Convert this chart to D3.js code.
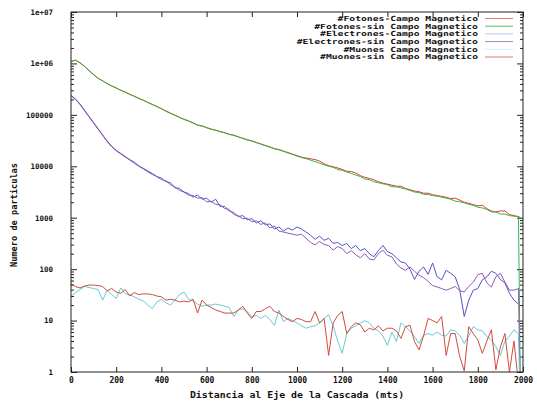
<!DOCTYPE html>
<html><head><meta charset="utf-8">
<script src="https://cdn.jsdelivr.net/npm/d3@7"></script>
<style>
body{margin:0;background:#fff}
svg{display:block;background:#fff}
text{font-family:"DejaVu Sans Mono",monospace;font-weight:bold;fill:#111}
</style>
</head><body>
<svg id="c" width="537" height="411"></svg>
<script>
const distance = [0,20,40,60,80,100,120,140,160,180,200,220,240,260,280,300,320,340,360,380,
400,420,440,460,480,500,520,540,560,580,600,620,640,660,680,700,720,740,760,780,
800,820,840,860,880,900,920,940,960,980,1000,1020,1040,1060,1080,1100,1120,1140,1160,1180,
1200,1220,1240,1260,1280,1300,1320,1340,1360,1380,1400,1420,1440,1460,1480,1500,1520,1540,1560,1580,
1600,1620,1640,1660,1680,1700,1720,1740,1760,1780,1800,1820,1840,1860,1880,1900,1920,1940,1960,1980,1990];

const fotonesCampo = [1100000,1160000,1030000,880000,720000,610000,515000,460000,405000,365000,
335000,300000,278000,250000,231000,208000,193000,175000,160000,146000,
131000,119000,108000,98500,90000,82000,76500,70000,63500,61000,
56500,53000,50500,47500,45000,42000,40300,37500,35200,32800,
31200,29000,27300,25400,23800,22100,21200,19700,18500,17200,
16200,15000,14500,14000,13500,12600,11200,10300,9800,9300,
8700,8000,7900,7400,6600,6100,5800,5500,5000,4700,
4500,4300,4100,4100,3700,3500,3300,3200,3000,3000,
2800,2700,2600,2500,2350,2400,2200,2000,1900,1800,
1700,1750,1500,1350,1300,1350,1350,1150,1100,1050,1000];

const fotonesSinCampo = [1096000,1148000,1023000,871000,724000,603000,513000,457000,407000,363000,
331000,302000,275000,251000,229000,209000,191000,174000,158000,145000,
132000,117500,107200,97700,89100,81300,75900,69200,63100,60300,
56200,52500,50100,46800,44700,41700,39800,37200,34700,32400,
30900,28800,26900,25100,23400,21900,20900,19500,18200,17000,
15800,14800,14100,13200,12300,11500,10700,10000,9550,8700,
8320,7760,7240,6760,6310,5700,5500,5010,4790,4570,
4370,4000,3980,3800,3630,3390,3160,3090,2850,2820,
2690,2630,2510,2400,2290,2100,2040,1950,1820,1740,
1600,1550,1450,1300,1290,1180,1170,1100,1070,1050,0.1];

const electronesCampo = [240000,204000,162000,123000,93300,70800,53700,40700,30900,24500,
20400,17800,15500,13500,12000,10200,9120,8130,7240,6310,
5890,5010,4790,3800,3720,3160,2950,2510,2750,2290,
2400,2000,2290,1660,1660,1350,1260,1050,1100,912,
955,794,871,724,759,603,661,550,631,575,
661,603,525,457,380,437,363,398,316,331,
288,316,251,288,229,251,200,174,229,288,
219,200,166,138,132,100,63,91,110,79,
132,71,62,95,83,71,40,12,25,39,
42,62,71,91,83,63,54,34,25,21,null];

const electronesSinCampo = [234000,200000,158000,120000,91200,69200,52500,39800,30200,24000,
20000,17400,15100,13200,11500,10000,8910,7760,6920,6310,
5500,5250,4370,3980,3390,3160,2750,2690,2400,2450,
2040,2090,1820,1780,1510,1450,1150,1100,955,977,
832,871,741,794,631,692,550,525,501,479,
457,479,398,331,295,347,302,288,234,275,
251,200,229,191,166,200,158,151,200,234,
186,174,126,105,95,110,91,76,68,58,
48,45,42,39,42,46,38,36,46,56,
78,83,54,45,71,83,56,39,39,42,0.1];

const muonesCampo = [30,35,40,46,44,42,40,25,39,32,
27,43,33,32,29,26,24,20,17,23,
26,22,20,25,32,36,26,24,21,19,
20,20,21,20,19,18,12,16,17,15,
12,12.6,11,12.6,10.5,8.1,16,9.5,11,10,
9,7.9,7.1,7.6,7.9,9,11,13,7.9,4,
2.3,5.6,7.1,7.9,9,10,9,7.1,6.3,5,
3.3,6,3.9,9,7.6,6.3,4.9,3.6,5.2,5.6,
5.2,6,5.2,5,6.6,6.3,5.2,3.6,5,7.6,
6.6,6.3,4.9,4.2,3.1,2.1,4,5,6.6,5.6,0.1];

const muonesSinCampo = [52,46,43,47,49,49,48,46,38,42,
36,34,40,30,35,32,33,33,32,30,
29,25,26,25,23,24,23,26,14,25,
20,18,16,15,14,14,14,16,19,14,
11,15,15,17,19,15,14,12,10.5,9.5,
11,10.5,9.5,9.5,15,9,11,2.1,9,12.6,
15,5.6,7.6,9,8.3,6,7.1,6.6,7.9,6.3,
7.1,7.1,6.3,4.5,7.6,8.1,3.9,2.7,5,11,
10,9,12,2.1,5.6,5.6,2,1.05,7.6,5.6,
4.2,2.3,4,6.6,1.1,3.1,5.6,1,4,0.6,null];

const seriesNames = ["#Fotones-Campo Magnetico","#Fotones-sin Campo Magnetico",
  "#Electrones-Campo Magnetico","#Electrones-sin Campo Magnetico",
  "#Muones Campo Magnetico","#Muones-sin Campo Magnetico"];
const seriesColors = ["#e23a3a","#35b440","#5353c8","#9258b4","#68cbd6","#d24a3c"];
const legendColors = ["#ea7a7a","#5cbc5c","#b8c8ea","#a086c4","#cdeef4","#d88070"];

const xTicks = [0,200,400,600,800,1000,1200,1400,1600,1800,2000];
const xTickLabels = ["0","200","400","600","800","1000","1200","1400","1600","1800","2000"];
const yTicks = [1,10,100,1000,10000,100000,1000000,10000000];
const yTickLabels = ["1","10","100","1000","10000","100000","1e+06","1e+07"];
const xTitle = "Distancia al Eje de la Cascada (mts)";
const yTitle = "Numero de particulas";

const series = [fotonesCampo,fotonesSinCampo,electronesCampo,electronesSinCampo,muonesCampo,muonesSinCampo];

const L = 71, R = 523, T = 12, B = 372;
const svg = d3.select("#c");
const x = d3.scaleLinear().domain([0,2000]).range([L,R]);
const y = d3.scaleLog().domain([1,1e7]).range([B,T]);

svg.append("defs").append("clipPath").attr("id","clip")
  .append("rect").attr("x",L).attr("y",T).attr("width",R-L).attr("height",B-T);

const minor = [];
yTicks.slice(0,-1).forEach(t => { for (let k=2;k<10;k++) minor.push(t*k); });

function styleAxis(g){ g.select(".domain").remove(); g.selectAll("line").attr("stroke","#222"); }

svg.append("g").attr("transform",`translate(0,${B})`)
  .call(d3.axisBottom(x).tickValues(xTicks).tickFormat((d,i)=>xTickLabels[i]).tickSize(-5).tickPadding(5))
  .call(styleAxis)
  .selectAll("text").attr("font-size",8).attr("font-family","DejaVu Sans Mono").attr("font-weight","bold").attr("fill","#111");
svg.append("g").attr("transform",`translate(0,${T})`)
  .call(d3.axisTop(x).tickValues(xTicks).tickFormat("").tickSize(-5)).call(styleAxis);
svg.append("g").attr("transform",`translate(${L},0)`)
  .call(d3.axisLeft(y).tickValues(yTicks).tickFormat((d,i)=>yTickLabels[i]).tickSize(-6).tickPadding(18))
  .call(styleAxis)
  .selectAll("text").attr("font-size",7.5).attr("font-family","DejaVu Sans Mono").attr("font-weight","bold").attr("fill","#111");
svg.append("g").attr("transform",`translate(${L},0)`)
  .call(d3.axisLeft(y).tickValues(minor).tickFormat("").tickSize(-3)).call(styleAxis);
svg.append("g").attr("transform",`translate(${R},0)`)
  .call(d3.axisRight(y).tickValues(yTicks).tickFormat("").tickSize(-6)).call(styleAxis);
svg.append("g").attr("transform",`translate(${R},0)`)
  .call(d3.axisRight(y).tickValues(minor).tickFormat("").tickSize(-3)).call(styleAxis);

const line = d3.line()
  .defined(v => v != null)
  .x((v,i) => x(distance[i]))
  .y(v => y(Math.max(v,1e-3)));
const plot = svg.append("g").attr("clip-path","url(#clip)");
series.forEach((s,i) => {
  plot.append("path").attr("d", line(s)).attr("fill","none")
    .attr("stroke", seriesColors[i]).attr("stroke-width",1).attr("stroke-linejoin","round");
});

svg.append("rect").attr("x",L).attr("y",T).attr("width",R-L).attr("height",B-T)
  .attr("fill","none").attr("stroke","#222").attr("stroke-width",1);

seriesNames.forEach((n,i) => {
  const yy = 18.5 + i*7.7;
  svg.append("text").attr("x",478).attr("y",yy).attr("dy","0.35em")
    .attr("text-anchor","end").attr("font-size",7)
    .attr("textLength", n.length*5.85).attr("lengthAdjust","spacingAndGlyphs").text(n);
  svg.append("line").attr("x1",485).attr("x2",513).attr("y1",yy).attr("y2",yy)
    .attr("stroke",legendColors[i]).attr("stroke-width",1);
});

svg.append("text").attr("x",(L+R)/2).attr("y",395).attr("dy","0.35em")
  .attr("text-anchor","middle").attr("font-size",9)
  .attr("textLength", xTitle.length*5.95).attr("lengthAdjust","spacingAndGlyphs").text(xTitle);
svg.append("text").attr("transform","translate(14,215) rotate(-90)").attr("dy","0.35em")
  .attr("text-anchor","middle").attr("font-size",8.5)
  .attr("textLength", yTitle.length*5.2).attr("lengthAdjust","spacingAndGlyphs").text(yTitle);
</script>
</body></html>
